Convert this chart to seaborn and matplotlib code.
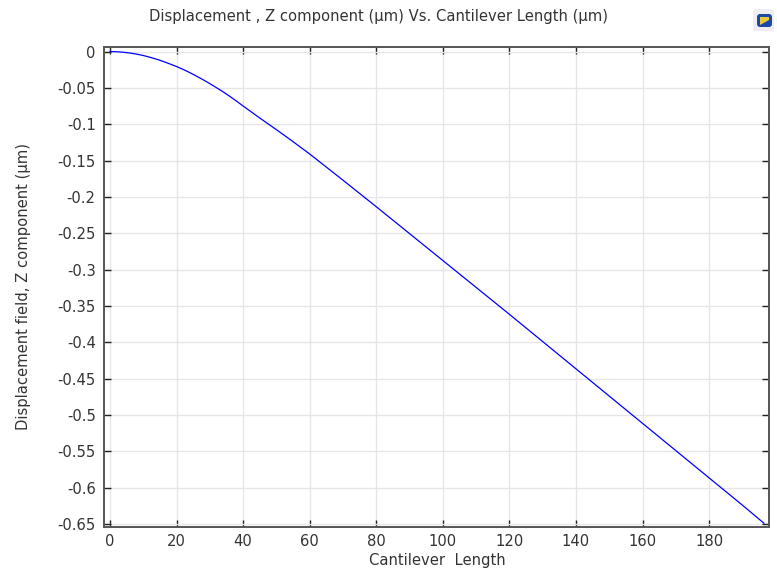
import numpy as np
import pandas as pd
import seaborn as sns
import matplotlib.pyplot as plt
from matplotlib.patches import FancyBboxPatch, Polygon

# values
length_um = [0, 2, 4, 6, 8, 10, 12, 14, 16, 18, 20, 22, 24, 26, 28, 30, 32, 34, 36, 38, 40, 45, 50, 55, 60, 70, 80, 90,
             100, 110, 120, 130, 140, 150, 160, 170, 180, 190, 196.5]
disp_um = [0, -0.0003, -0.0010, -0.0021, -0.0036, -0.0055, -0.0079, -0.0106, -0.0137, -0.0171, -0.0207, -0.0247,
           -0.0291, -0.0339, -0.0389, -0.0442, -0.0498, -0.0555, -0.0617, -0.0682, -0.0750, -0.0915, -0.1075, -0.1240,
           -0.1410, -0.1770, -0.2135, -0.2505, -0.2875, -0.3245, -0.3615, -0.3990, -0.4365, -0.4740, -0.5115, -0.5490,
           -0.5865, -0.6240, -0.6490]
x_ticks = [0, 20, 40, 60, 80, 100, 120, 140, 160, 180]
y_ticks = [0, -0.05, -0.1, -0.15, -0.2, -0.25, -0.3, -0.35, -0.4, -0.45, -0.5, -0.55, -0.6, -0.65]
y_labels = ['0', '-0.05', '-0.1', '-0.15', '-0.2', '-0.25', '-0.3', '-0.35', '-0.4', '-0.45', '-0.5', '-0.55', '-0.6', '-0.65']

W, H = 777, 569
sns.set_theme(style='white')
plt.rcParams['font.family'] = ['DejaVu Sans']
text_col = '#333333'
spine_col = '#555555'

df = pd.DataFrame({'length': length_um, 'disp': disp_um})

fig = plt.figure(figsize=(W / 100, H / 100), dpi=100)
ax = fig.add_axes([104 / W, 1 - 527 / H, (769 - 104) / W, (527 - 47) / H])

sns.lineplot(data=df, x='length', y='disp', color='#0000ff', linewidth=0.9, ax=ax, errorbar=None)

ax.set_xlim(-1.8, 198)
ax.set_ylim(-0.6541, 0.0062)
ax.set_xticks(x_ticks)
ax.set_yticks(y_ticks)
ax.set_yticklabels(y_labels)
ax.set_xlabel('')
ax.set_ylabel('')
ax.grid(True, color='#e6e6e6', linewidth=1.0)
ax.set_axisbelow(True)
ax.tick_params(axis='both', direction='in', length=5, width=1, color='#222222', labelsize=10.6,
               labelcolor=text_col, top=True, right=True, bottom=True, left=True, pad=6)
ax.tick_params(axis='x', pad=5)
for s in ax.spines.values():
    s.set_visible(True)
    s.set_color(spine_col)
    s.set_linewidth(1.4)

fig.text(437 / W, 1 - 561 / H, 'Cantilever  Length', fontsize=10.6, color=text_col, ha='center', va='center')
fig.text(24 / W, 1 - 287 / H, 'Displacement field, Z component (µm)', fontsize=10.6, color=text_col,
         rotation=90, ha='center', va='center')
fig.text(378.5 / W, 1 - 16 / H, 'Displacement , Z component (µm) Vs. Cantilever Length (µm)', fontsize=10.6,
         color=text_col, ha='center', va='center')

# small COMSOL style icon top right
icon = fig.add_axes([752 / W, 1 - 33 / H, 24 / W, 25 / H])
icon.set_xlim(0, 24)
icon.set_ylim(25, 0)
icon.axis('off')
icon.add_patch(FancyBboxPatch((1, 1), 21, 22, boxstyle='round,pad=0,rounding_size=3', fc='#eeeef2', ec='none'))
icon.add_patch(FancyBboxPatch((5, 6), 15, 13, boxstyle='round,pad=0,rounding_size=3', fc='#1c49a8', ec='none'))
icon.add_patch(Polygon([(8, 9), (17, 9), (17, 12), (8, 17)], fc='#ecc83a', ec='none'))

fig.savefig('out.png', dpi=100)
